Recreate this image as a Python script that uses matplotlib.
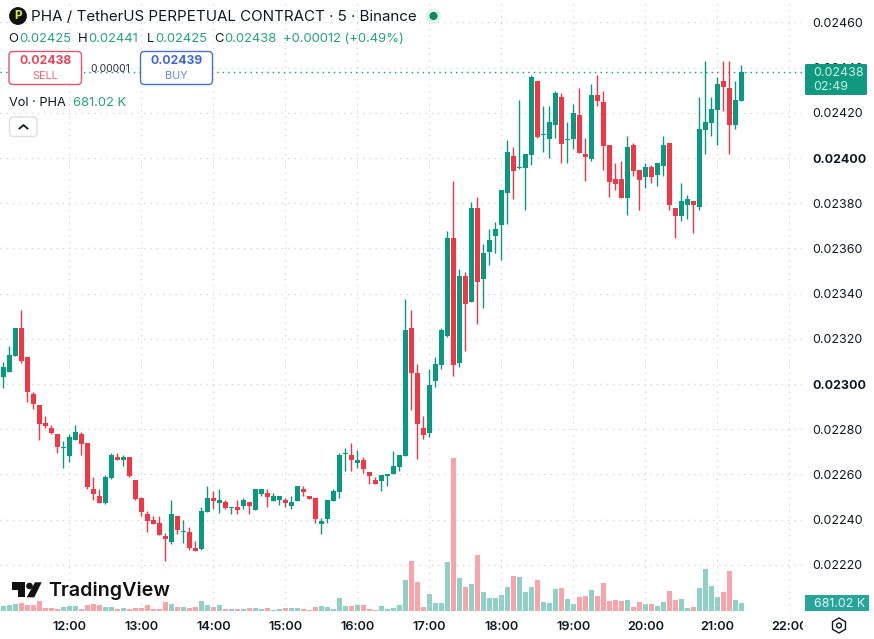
import numpy as np
import matplotlib
matplotlib.use("Agg")
import matplotlib.pyplot as plt
from matplotlib.patches import Circle, FancyBboxPatch, Polygon, Rectangle, RegularPolygon
from matplotlib.transforms import Bbox

plt.rcParams['font.family'] = ['Inter', 'DejaVu Sans']

# 5 minute candles from 11:05 to 21:20, prices in units of 0.00001
opens = [2303.3, 2305.5, 2312.6, 2324.8, 2312, 2295.6, 2290.6, 2282.8, 2280.6, 2277.9,
         2271.7, 2268.3, 2275.2, 2277.9, 2273.8, 2253.4, 2250.5, 2247.4, 2258.6, 2267.6,
         2266.5, 2267.7, 2257.6, 2249.7, 2242.4, 2239.8, 2238.5, 2232.9, 2230.3, 2241.6,
         2234.5, 2234.5, 2227.5, 2227, 2243.5, 2249.6, 2247.5, 2247.8, 2245.3, 2245.4,
         2246, 2247.6, 2244.2, 2251.3, 2251.6, 2248.4, 2248.9, 2248.6, 2246, 2248.2,
         2253.4, 2250.4, 2249.5, 2238, 2240.2, 2248.2, 2252.2, 2269.2, 2268.4, 2265,
         2266.6, 2261.3, 2257.5, 2257, 2259.3, 2260.2, 2263.3, 2268.3, 2324.8, 2304.9,
         2280.5, 2278.5, 2301.5, 2308.4, 2321.2, 2364.6, 2309.3, 2347.8, 2336.3, 2377.9,
         2346.5, 2358.4, 2365.5, 2370.4, 2384.5, 2400.9, 2395.6, 2395.6, 2401.4, 2434.1,
         2410.3, 2408.4, 2414.6, 2427, 2408, 2408.4, 2419.1, 2401.8, 2399.6, 2427.9,
         2424.8, 2405.8, 2390.7, 2390.7, 2382.3, 2405.8, 2394.7, 2391.6, 2396, 2392.5,
         2396.5, 2406.6, 2377.9, 2374.3, 2379.2, 2381, 2378.5, 2412.4, 2415.5, 2421.2,
         2434.1, 2431, 2414.6, 2425]
highs = [2309.9, 2316.8, 2324.8, 2332.8, 2312, 2296.6, 2290.6, 2285.7, 2281.7, 2277.9,
         2274.8, 2277.8, 2281.7, 2278.6, 2273.8, 2258.7, 2253.4, 2259.6, 2269.3, 2269.3,
         2268.6, 2267.7, 2257.6, 2250.2, 2243.8, 2241.6, 2241.6, 2233.9, 2248.6, 2241.6,
         2239.8, 2236.6, 2230.4, 2245.5, 2254.9, 2252.7, 2253.4, 2248.6, 2245.4, 2248.6,
         2249.4, 2247.6, 2253.5, 2253.5, 2253.5, 2251.6, 2250.3, 2249.5, 2250.4, 2254.7,
         2254.8, 2250.4, 2249.5, 2240.7, 2248.6, 2253.4, 2269.3, 2271.5, 2273.9, 2270.8,
         2267.7, 2261.3, 2258.8, 2259.6, 2260.4, 2270.6, 2268.4, 2337.5, 2332.8, 2308.9,
         2285.8, 2306.8, 2311.8, 2324.8, 2367.7, 2389.8, 2350.9, 2349.4, 2380.7, 2382.6,
         2362, 2368.4, 2371.7, 2385.9, 2408, 2404.9, 2425.7, 2401.8, 2436.8, 2434.1,
         2423, 2423, 2429.7, 2428.8, 2416, 2423.9, 2431, 2408.9, 2432.8, 2436.8,
         2429.7, 2405.8, 2397.8, 2398.7, 2409.8, 2406.5, 2394.7, 2397.6, 2396.9, 2397.8,
         2409.7, 2406.6, 2377.9, 2388.9, 2383.6, 2381, 2427, 2443, 2427, 2435.8,
         2443, 2443, 2434.1, 2441]
lows = [2298.1, 2305.5, 2312.6, 2309.2, 2291.9, 2288.8, 2275.1, 2280.7, 2277.9, 2269.6,
        2263, 2265.7, 2275.2, 2268.8, 2253.7, 2248.8, 2247.5, 2246.8, 2257.8, 2266.5,
        2263.9, 2259, 2248.8, 2241.8, 2234.7, 2238.2, 2233.4, 2221.9, 2229.1, 2233.5,
        2229.8, 2226.7, 2226.3, 2226.7, 2243.5, 2244.7, 2242.8, 2244.8, 2242.6, 2242.5,
        2244.8, 2242.5, 2244.2, 2250.4, 2245.6, 2248.4, 2246.4, 2245.7, 2244.7, 2248.2,
        2250.4, 2249.2, 2238.6, 2233.6, 2238.6, 2248.2, 2249.7, 2261.6, 2261.6, 2263,
        2260.6, 2255.7, 2255.7, 2252.6, 2254.8, 2260.2, 2261.5, 2268.3, 2288.5, 2267,
        2275.8, 2276.7, 2298.8, 2306.8, 2320.9, 2303.7, 2307.7, 2314.6, 2336.3, 2326.6,
        2333.6, 2352.7, 2358, 2354.9, 2370.8, 2381.9, 2395.2, 2377, 2396.9, 2408.9,
        2402.7, 2400, 2408.9, 2397.8, 2397.8, 2404, 2402.2, 2389.9, 2398.7, 2423,
        2394.7, 2382.8, 2385.9, 2382.3, 2374.8, 2392, 2377, 2386.7, 2388.9, 2387.6,
        2392, 2377, 2364.6, 2372, 2373, 2366.8, 2377, 2401.8, 2409.7, 2405.8,
        2420.8, 2401.8, 2412.8, 2425]
closes = [2307.7, 2312.9, 2324.8, 2310.4, 2296.6, 2291.3, 2282.5, 2281.6, 2278.3, 2272.3,
          2271.8, 2276.6, 2278.8, 2273.6, 2254.6, 2251.4, 2247.5, 2258.9, 2268.6, 2266.5,
          2267.6, 2259.3, 2249.1, 2243.5, 2239.5, 2238.2, 2233.4, 2231.6, 2242.5, 2235.6,
          2234.6, 2227.3, 2226.3, 2243.8, 2249.6, 2248.4, 2248.6, 2245.1, 2245.4, 2244.2,
          2248.5, 2246, 2253.5, 2253.5, 2250, 2250.3, 2250.3, 2247.3, 2247.8, 2254.7,
          2252.2, 2249.2, 2240.2, 2239.6, 2248.6, 2252.6, 2268.6, 2269.4, 2266.4, 2266.6,
          2262.4, 2259.3, 2256, 2259.6, 2260.4, 2263.7, 2268.4, 2323.9, 2304.7, 2282.3,
          2277.6, 2299.6, 2308.9, 2323.9, 2364.6, 2308.4, 2347.8, 2335.4, 2377.9, 2345.3,
          2358, 2363.7, 2368.6, 2385.9, 2402.7, 2394.3, 2395.8, 2401.8, 2435.9, 2409.3,
          2410.5, 2416, 2428.8, 2406.2, 2408.2, 2420, 2402.2, 2400.5, 2427.9, 2425.3,
          2405.3, 2389.4, 2388.5, 2382.3, 2404.9, 2394.4, 2390.3, 2396, 2391.6, 2397.8,
          2405.8, 2379.2, 2374.3, 2381, 2381.9, 2379.2, 2412.8, 2416, 2421.7, 2432.8,
          2431.4, 2414.6, 2425.7, 2438]
# volume per candle, thousands of PHA
volumes = [440, 530, 620, 708, 530, 560, 850, 265, 235, 206,
           380, 470, 413, 206, 560, 650, 530, 380, 325, 148,
           265, 206, 265, 300, 560, 148, 206, 796, 620, 380,
           380, 295, 380, 885, 530, 354, 530, 177, 177, 177,
           177, 236, 265, 206, 265, 90, 148, 265, 265, 265,
           177, 90, 354, 440, 354, 177, 1150, 440, 440, 530,
           530, 177, 90, 440, 177, 265, 530, 2740, 4425, 2566,
           325, 1475, 678, 678, 4307, 13510, 2891, 2094, 2360, 4926,
           1652, 1121, 1121, 1387, 2094, 3068, 2980, 1652, 2094, 2714,
           767, 678, 1918, 2006, 1033, 590, 1210, 1298, 1829, 1298,
           2449, 856, 944, 856, 944, 325, 767, 590, 590, 413,
           767, 1740, 944, 1033, 236, 325, 2006, 3688, 2183, 1210,
           1652, 3510, 944, 681.02]

hour_labels = ['12:00', '13:00', '14:00', '15:00', '16:00', '17:00',
               '18:00', '19:00', '20:00', '21:00', '22:00']
price_ticks = [2220, 2240, 2260, 2280, 2300, 2320, 2340, 2360, 2380, 2400, 2420, 2440, 2460]

GREEN = '#089981'
RED = '#f23645'
INK = '#131722'
TEAL_TXT = '#26a17b'
W, H = 874, 639
PANE_W, PANE_H = 804, 611

o = np.array(opens) / 1e5
h = np.array(highs) / 1e5
l = np.array(lows) / 1e5
c = np.array(closes) / 1e5
v = np.array(volumes)
idx = np.arange(len(o))
colors = [GREEN if cl >= op else RED for op, cl in zip(o, c)]

fig = plt.figure(figsize=(W / 100, H / 100), dpi=100, facecolor='white')
rect = [0, (H - PANE_H) / H, PANE_W / W, PANE_H / H]

# volume pane sits under the candles and shares the same box
axv = fig.add_axes(rect, zorder=1)
axv.bar(idx, v, width=0.82, color=colors, alpha=0.45, linewidth=0)
axv.set_ylim(0, PANE_H * 88.5)
axv.set_xlim(-0.583, 133.417)
axv.axis('off')

ax = fig.add_axes(rect, zorder=2)
ax.patch.set_alpha(0)
ax.set_xlim(-0.583, 133.417)
ax.set_ylim(0.021996, 0.024699)

ax.vlines(idx, l, h, colors=colors, linewidth=1.0, zorder=3)
body = np.maximum(np.abs(c - o), 0.45e-5)
ax.bar(idx, body, bottom=np.minimum(o, c), width=0.8, color=colors, linewidth=0, zorder=4)

# last price marker
ax.axhline(c[-1], color=GREEN, linewidth=1.0, linestyle=(0, (1, 3)), zorder=2)

ax.set_yticks(np.array(price_ticks) / 1e5)
ax.set_xticks(11 + 12 * np.arange(len(hour_labels)))
ax.set_xticklabels(hour_labels)
ax.grid(True, color='#d3d5d9', linewidth=0.9, linestyle=(0, (1, 4)), zorder=0)
ax.set_axisbelow(True)
for s in ax.spines.values():
    s.set_visible(False)
ax.yaxis.tick_right()
ax.yaxis.set_major_formatter(lambda y, pos: '%.5f' % y)
ax.tick_params(axis='y', length=0, pad=6.2, labelsize=9.0, labelcolor=INK)
ax.tick_params(axis='x', length=0, pad=7, labelsize=9.2, labelcolor=INK)
for lab in ax.get_xticklabels():
    lab.set_fontweight('semibold')
    # the last hour label runs into the price scale and gets cut off
    lab.set_clip_box(Bbox([[0, 0], [PANE_W - 1, H]]))
    lab.set_clip_on(True)
for lab, tick in zip(ax.get_yticklabels(), price_ticks):
    if tick % 100 == 0:
        lab.set_fontweight('bold')

# everything around the plot is placed in screen pixels on a top layer
ov = fig.add_axes([0, 0, 1, 1], zorder=5)
ov.set_xlim(0, W)
ov.set_ylim(H, 0)
ov.axis('off')


def label(x, y, s, color=INK, size=9.2, ha='left', weight='normal'):
    # va center sits about a pixel high for this font
    ov.text(x, y + 1, s, color=color, fontsize=size, ha=ha, va='center', fontweight=weight)


def button(x0, y0, x1, y1, edge, lw=1.0):
    ov.add_patch(FancyBboxPatch((x0 + 4, y0 + 4), x1 - x0 - 8, y1 - y0 - 8,
                                boxstyle='round,pad=4,rounding_size=4',
                                facecolor='white', edgecolor=edge, linewidth=lw))


# symbol logo and title
ov.add_patch(Circle((18, 16), 8.2, color='#111111'))
ov.text(18, 16.3, 'P', color='#d4f04a', fontsize=8.5, ha='center', va='center', fontweight='bold')
label(31, 16, 'PHA / TetherUS PERPETUAL CONTRACT · 5 · Binance', size=10.9)
ov.add_patch(Circle((433.5, 16), 7, color='#dff3ec'))
ov.add_patch(Circle((433.5, 16), 3.4, color='#0b8a62'))

# OHLC row
for x, s, col in [(8, 'O', INK), (19, '0.02425', TEAL_TXT), (78, 'H', INK), (88, '0.02441', TEAL_TXT),
                  (147, 'L', INK), (155, '0.02425', TEAL_TXT), (214, 'C', INK), (224, '0.02438', TEAL_TXT),
                  (283, '+0.00012 (+0.49%)', TEAL_TXT)]:
    label(x, 38.5, s, color=col, size=9.4)

# sell / buy buttons
button(9, 51.5, 81.5, 84.5, '#e0566b')
button(140.5, 51.5, 212.5, 84.5, '#4a70d8')
label(45.5, 60.5, '0.02438', color='#e8455a', size=8.8, ha='center', weight='bold')
label(45.5, 75, 'SELL', color='#e8697b', size=7.8, ha='center')
label(176.5, 60.5, '0.02439', color='#3f66dc', size=8.8, ha='center', weight='bold')
label(176.5, 75, 'BUY', color='#6b8be4', size=7.8, ha='center')
label(110.5, 68.5, '0.00001', size=7.5, ha='center', color='#2a2e39')

# volume legend and collapse button
label(9, 102, 'Vol · PHA', size=9.2)
label(73, 102, '681.02 K', color=TEAL_TXT, size=9.4)
button(9.5, 117, 37, 136.5, '#dcdee2')
ov.plot([19.5, 23.5, 27.5], [128.5, 125, 128.5], color=INK, linewidth=1.3)

# TradingView mark
ov.add_patch(Polygon([(12, 582.3), (25, 582.3), (25, 597.3), (17.5, 597.3), (17.5, 590), (12, 590)],
                     color='#111111', linewidth=0))
ov.add_patch(Circle((29.5, 586), 3.3, color='#111111', linewidth=0))
ov.add_patch(Polygon([(35, 582.3), (41.7, 582.3), (34.3, 597.3), (26.7, 597.3)], color='#111111', linewidth=0))
label(48.5, 589.5, 'TradingView', color='#111111', size=14.2, weight='semibold')

# price scale flags
ov.add_patch(FancyBboxPatch((806, 65), 60, 29, boxstyle='round,pad=1,rounding_size=1.5',
                            facecolor='#0f9a7f', edgecolor='none'))
label(813.5, 71.5, '0.02438', color='#c9f0e4', size=9.0)
label(813.5, 85.5, '02:49', color='#c9f0e4', size=9.0)
ov.add_patch(Rectangle((805, 595), 64, 16, facecolor='#26a69a', edgecolor='none'))
label(813.5, 603, '681.02 K', color='#e6f6f3', size=8.9)

# settings icon
ov.add_patch(RegularPolygon((839, 625.5), 6, radius=7.5, orientation=np.pi / 6 + np.pi / 2,
                            facecolor='white', edgecolor=INK, linewidth=1.0))
ov.add_patch(Circle((839, 625.5), 2.4, facecolor='white', edgecolor=INK, linewidth=1.0))

fig.savefig('out.png', dpi=100)
